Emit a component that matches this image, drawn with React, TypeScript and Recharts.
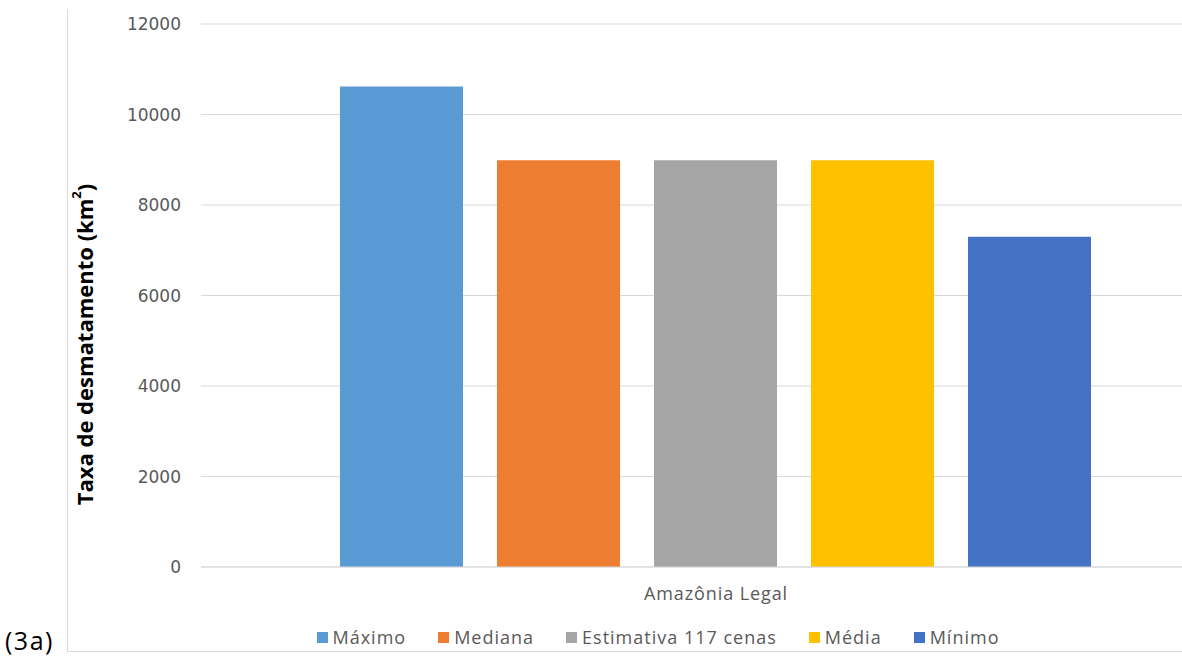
import React from 'react';
import { BarChart, Bar, XAxis, YAxis, CartesianGrid, Legend } from 'recharts';

// one category, five estimates
const categories = ['Amazônia Legal'];
const seriesNames = ['Máximo', 'Mediana', 'Estimativa 117 cenas', 'Média', 'Mínimo'];
const seriesValues = [10620, 8990, 8990, 8990, 7300];
const seriesColors = ['#5B9BD5', '#ED7D31', '#A5A5A5', '#FFC000', '#4472C4'];
const yTicks = [0, 2000, 4000, 6000, 8000, 10000, 12000];

const chartData = categories.map((name) => {
  const row: Record<string, any> = { name };
  seriesNames.forEach((s, i) => {
    row[s] = seriesValues[i];
  });
  return row;
});

const txtFont = '"Open Sans", sans-serif';

const YLabel = (props: any) => {
  const vb = props.viewBox || { x: 0, y: 0, width: 0, height: 0 };
  const cx = vb.x + 17;
  const cy = vb.y + vb.height / 2 + 49;
  return (
    <text
      x={cx}
      y={cy}
      transform={`rotate(-90, ${cx}, ${cy})`}
      textAnchor="middle"
      dominantBaseline="central"
      fontFamily={txtFont}
      fontWeight={700}
      fontSize={22}
      fill="#000"
    >
      Taxa de desmatamento (km<tspan fontSize={13} dy={-8}>2</tspan>
      <tspan dy={8}>)</tspan>
    </text>
  );
};

const LegendBox = (props: any) => {
  // keep the series order, not the alphabetical one
  const items = [...(props.payload || [])].sort(
    (a: any, b: any) => seriesNames.indexOf(a.value) - seriesNames.indexOf(b.value)
  );
  return (
    <div
      style={{ display: 'flex', justifyContent: 'center', height: 24, alignItems: 'center', gap: 32, paddingLeft: 18 }}
    >
      {items.map((it: any) => (
        <div key={it.value} style={{ display: 'flex', alignItems: 'center' }}>
          <span style={{ width: 11, height: 11, background: it.color, display: 'inline-block', marginRight: 5 }} />
          <span style={{ fontFamily: txtFont, fontSize: 18, color: '#595959', letterSpacing: 1 }}>{it.value}</span>
        </div>
      ))}
    </div>
  );
};

export default function App() {
  return (
    <div style={{ position: 'fixed', left: 0, top: 0, width: 1182, height: 661, overflow: 'hidden', background: '#fff' }}>
      <div
        style={{
          position: 'absolute',
          left: 67,
          top: 9,
          width: 1300,
          height: 642,
          borderLeft: '1px solid #d9d9d9',
          borderBottom: '1px solid #d9d9d9',
        }}
      />
      <div
        style={{ position: 'absolute', left: 5, top: 623, fontFamily: txtFont, fontSize: 25, color: '#000', letterSpacing: 1.5 }}
      >
        (3a)
      </div>
      <div style={{ position: 'absolute', left: 67, top: 0 }}>
        <BarChart
          width={1183}
          height={652}
          data={chartData}
          margin={{ top: 24, right: 19, left: 0, bottom: 3 }}
          barCategoryGap={139}
          barGap={34}
        >
          <CartesianGrid vertical={false} stroke="#d9d9d9" />
          <XAxis
            dataKey="name"
            height={58}
            axisLine={{ stroke: '#d9d9d9' }}
            tickLine={false}
            tickSize={0}
            tickMargin={20}
            tick={{ fill: '#595959', fontSize: 18, fontFamily: txtFont, letterSpacing: 0.9 }}
          />
          <YAxis
            width={134}
            domain={[0, 12000]}
            ticks={yTicks}
            axisLine={false}
            tickLine={false}
            tickSize={0}
            tickMargin={20}
            tick={{ fill: '#595959', fontSize: 17, fontFamily: '"DejaVu Sans", sans-serif' }}
            label={<YLabel />}
          />
          <Legend verticalAlign="bottom" content={<LegendBox />} />
          {seriesNames.map((s, i) => (
            <Bar key={s} dataKey={s} fill={seriesColors[i]} isAnimationActive={false} />
          ))}
        </BarChart>
      </div>
    </div>
  );
}
